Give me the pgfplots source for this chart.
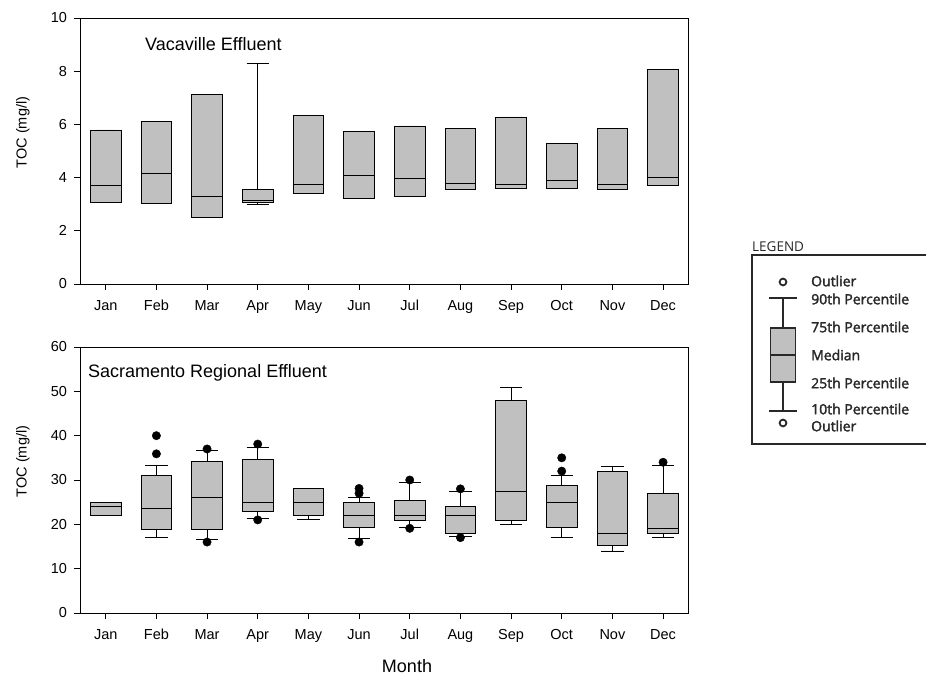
\documentclass[border=0pt]{standalone}
\usepackage{fontspec}
\setmainfont{Liberation Sans}
\newfontfamily\legfont[FakeBold=2.2]{Open Sans}
\newfontfamily\leghead{Open Sans}
\usepackage{pgfplots}
\pgfplotsset{compat=1.18}
\usepgfplotslibrary{statistics}
\definecolor{boxgray}{RGB}{192,192,192}
\definecolor{legline}{RGB}{40,40,40}

\pgfplotsset{
  tocaxis/.style={
    scale only axis, width=608bp, height=266bp,
    xmin=0.5, xmax=12.5, ymin=0,
    xtick={1,...,12},
    xticklabels={Jan,Feb,Mar,Apr,May,Jun,Jul,Aug,Sep,Oct,Nov,Dec},
    tick align=outside, tick pos=left,
    major tick length=6bp,
    axis line style={line width=0.8bp},
    every tick/.style={black, line width=0.8bp},
    tick label style={font=\fontsize{14.5bp}{17bp}\selectfont},
    xticklabel style={yshift=-6bp, text height=10.5bp, text depth=3bp},
    yticklabel style={xshift=-4bp},
    /pgf/number format/assume math mode=true,
    boxplot/draw direction=y,
    clip=false,
  },
  bx/.style={fill=boxgray, draw=black, line width=0.8bp, solid},
  outl/.style={only marks, mark=*, mark size=4.2bp, mark options={fill=black, draw=black}},
}

\begin{document}
\begin{tikzpicture}
% ---------------- Top: Vacaville Effluent ----------------
\begin{axis}[tocaxis, at={(80.4bp,393bp)}, anchor=south west,
  ymax=10, ytick={0,2,4,6,8,10}]
\addplot[bx, boxplot prepared={draw position=1, lower whisker=3.08, lower quartile=3.08, median=3.72, upper quartile=5.79, upper whisker=5.79, box extend=0.61, whisker extend=0.44}] coordinates {};
\addplot[bx, boxplot prepared={draw position=2, lower whisker=3.02, lower quartile=3.02, median=4.17, upper quartile=6.12, upper whisker=6.12, box extend=0.61, whisker extend=0.44}] coordinates {};
\addplot[bx, boxplot prepared={draw position=3, lower whisker=2.49, lower quartile=2.49, median=3.30, upper quartile=7.12, upper whisker=7.12, box extend=0.61, whisker extend=0.44}] coordinates {};
\addplot[bx, boxplot prepared={draw position=4, lower whisker=3.00, lower quartile=3.05, median=3.13, upper quartile=3.56, upper whisker=8.30, box extend=0.61, whisker extend=0.44}] coordinates {};
\addplot[bx, boxplot prepared={draw position=5, lower whisker=3.42, lower quartile=3.42, median=3.75, upper quartile=6.33, upper whisker=6.33, box extend=0.61, whisker extend=0.44}] coordinates {};
\addplot[bx, boxplot prepared={draw position=6, lower whisker=3.22, lower quartile=3.22, median=4.09, upper quartile=5.74, upper whisker=5.74, box extend=0.61, whisker extend=0.44}] coordinates {};
\addplot[bx, boxplot prepared={draw position=7, lower whisker=3.31, lower quartile=3.31, median=3.96, upper quartile=5.94, upper whisker=5.94, box extend=0.61, whisker extend=0.44}] coordinates {};
\addplot[bx, boxplot prepared={draw position=8, lower whisker=3.57, lower quartile=3.57, median=3.77, upper quartile=5.86, upper whisker=5.86, box extend=0.61, whisker extend=0.44}] coordinates {};
\addplot[bx, boxplot prepared={draw position=9, lower whisker=3.61, lower quartile=3.61, median=3.76, upper quartile=6.28, upper whisker=6.28, box extend=0.61, whisker extend=0.44}] coordinates {};
\addplot[bx, boxplot prepared={draw position=10, lower whisker=3.60, lower quartile=3.60, median=3.88, upper quartile=5.30, upper whisker=5.30, box extend=0.61, whisker extend=0.44}] coordinates {};
\addplot[bx, boxplot prepared={draw position=11, lower whisker=3.55, lower quartile=3.55, median=3.76, upper quartile=5.86, upper whisker=5.86, box extend=0.61, whisker extend=0.44}] coordinates {};
\addplot[bx, boxplot prepared={draw position=12, lower whisker=3.71, lower quartile=3.71, median=4.02, upper quartile=8.08, upper whisker=8.08, box extend=0.61, whisker extend=0.44}] coordinates {};
\end{axis}

% ---------------- Bottom: Sacramento Regional Effluent ----------------
\begin{axis}[tocaxis, at={(80.4bp,64bp)}, anchor=south west,
  ymax=60, ytick={0,10,20,30,40,50,60}]
\addplot[bx, boxplot prepared={draw position=1, lower whisker=22.0, lower quartile=22.0, median=24.0, upper quartile=25.0, upper whisker=25.0, box extend=0.61, whisker extend=0.44}] coordinates {};
\addplot[bx, boxplot prepared={draw position=2, lower whisker=17.0, lower quartile=18.9, median=23.5, upper quartile=31.1, upper whisker=33.3, box extend=0.61, whisker extend=0.44}] coordinates {};
\addplot[bx, boxplot prepared={draw position=3, lower whisker=16.6, lower quartile=18.9, median=26.0, upper quartile=34.2, upper whisker=36.7, box extend=0.61, whisker extend=0.44}] coordinates {};
\addplot[bx, boxplot prepared={draw position=4, lower whisker=21.4, lower quartile=23.0, median=25.0, upper quartile=34.6, upper whisker=37.4, box extend=0.61, whisker extend=0.44}] coordinates {};
\addplot[bx, boxplot prepared={draw position=5, lower whisker=21.0, lower quartile=22.0, median=25.0, upper quartile=28.0, upper whisker=28.0, box extend=0.61, whisker extend=0.44}] coordinates {};
\addplot[bx, boxplot prepared={draw position=6, lower whisker=16.9, lower quartile=19.3, median=22.0, upper quartile=25.0, upper whisker=26.1, box extend=0.61, whisker extend=0.44}] coordinates {};
\addplot[bx, boxplot prepared={draw position=7, lower whisker=19.4, lower quartile=20.9, median=22.0, upper quartile=25.3, upper whisker=29.4, box extend=0.61, whisker extend=0.44}] coordinates {};
\addplot[bx, boxplot prepared={draw position=8, lower whisker=17.3, lower quartile=18.0, median=22.0, upper quartile=24.1, upper whisker=27.4, box extend=0.61, whisker extend=0.44}] coordinates {};
\addplot[bx, boxplot prepared={draw position=9, lower whisker=20.0, lower quartile=20.9, median=27.5, upper quartile=47.9, upper whisker=50.9, box extend=0.61, whisker extend=0.44}] coordinates {};
\addplot[bx, boxplot prepared={draw position=10, lower whisker=17.0, lower quartile=19.2, median=25.0, upper quartile=28.8, upper whisker=31.1, box extend=0.61, whisker extend=0.44}] coordinates {};
\addplot[bx, boxplot prepared={draw position=11, lower whisker=14.0, lower quartile=15.2, median=18.0, upper quartile=31.9, upper whisker=33.0, box extend=0.61, whisker extend=0.44}] coordinates {};
\addplot[bx, boxplot prepared={draw position=12, lower whisker=17.0, lower quartile=18.0, median=19.0, upper quartile=27.0, upper whisker=33.2, box extend=0.61, whisker extend=0.44}] coordinates {};
% outliers
\addplot[outl] coordinates {
  (2,40.0) (2,35.9)
  (3,37.0) (3,16.0)
  (4,38.1) (4,21.0)
  (6,28.1) (6,27.0) (6,16.0)
  (7,30.0) (7,19.1)
  (8,28.0) (8,17.0)
  (10,35.0) (10,32.0)
  (12,34.0)
};
\end{axis}

% ---------------- Legend ----------------
\begin{axis}[at={(752bp,233bp)}, anchor=south west, scale only axis,
  width=174bp, height=189bp, xmin=752, xmax=926, ymin=233, ymax=422,
  hide axis, clip=false, boxplot/draw direction=y]
\draw[legline, line width=1.5bp] (axis cs:752,233) rectangle (axis cs:945,422);
\addplot[fill=boxgray, draw=legline, line width=1.5bp, solid,
  boxplot prepared={draw position=783, lower whisker=266, lower quartile=295, median=322, upper quartile=349, upper whisker=379, box extend=25, whisker extend=28}] coordinates {};
\addplot[only marks, mark=o, mark size=3.4bp, mark options={draw=legline, line width=1.8bp}] coordinates {(783,395) (783,254)};
\begin{scope}[every node/.style={anchor=west, inner sep=0pt, text=legline, font=\legfont\fontsize{14bp}{16bp}\selectfont}]
\node at (axis cs:811,396) {Outlier};
\node at (axis cs:811,378) {90th Percentile};
\node at (axis cs:811,350) {75th Percentile};
\node at (axis cs:811,322) {Median};
\node at (axis cs:811,294) {25th Percentile};
\node at (axis cs:811,268) {10th Percentile};
\node at (axis cs:811,251) {Outlier};
\end{scope}
\node[anchor=west, inner sep=0pt, text=legline, font=\leghead\fontsize{13.5bp}{15bp}\selectfont] at (axis cs:752,430) {LEGEND};
\end{axis}

% ---------------- Labels ----------------
\node[font=\fontsize{18bp}{21bp}\selectfont, anchor=west, inner sep=0pt] at (145bp,633bp) {Vacaville Effluent};
\node[font=\fontsize{18bp}{21bp}\selectfont, anchor=west, inner sep=0pt] at (88bp,304bp) {Sacramento Regional Effluent};
\node[font=\fontsize{14.5bp}{17bp}\selectfont, rotate=90, inner sep=0pt] at (23bp,544.5bp) {TOC (mg/l)};
\node[font=\fontsize{14.5bp}{17bp}\selectfont, rotate=90, inner sep=0pt] at (23bp,215.5bp) {TOC (mg/l)};
\node[font=\fontsize{18bp}{21bp}\selectfont, inner sep=0pt] at (407bp,10.5bp) {Month};

\pgfresetboundingbox
\useasboundingbox (0,0) rectangle (926bp,677bp);
\end{tikzpicture}
\end{document}
